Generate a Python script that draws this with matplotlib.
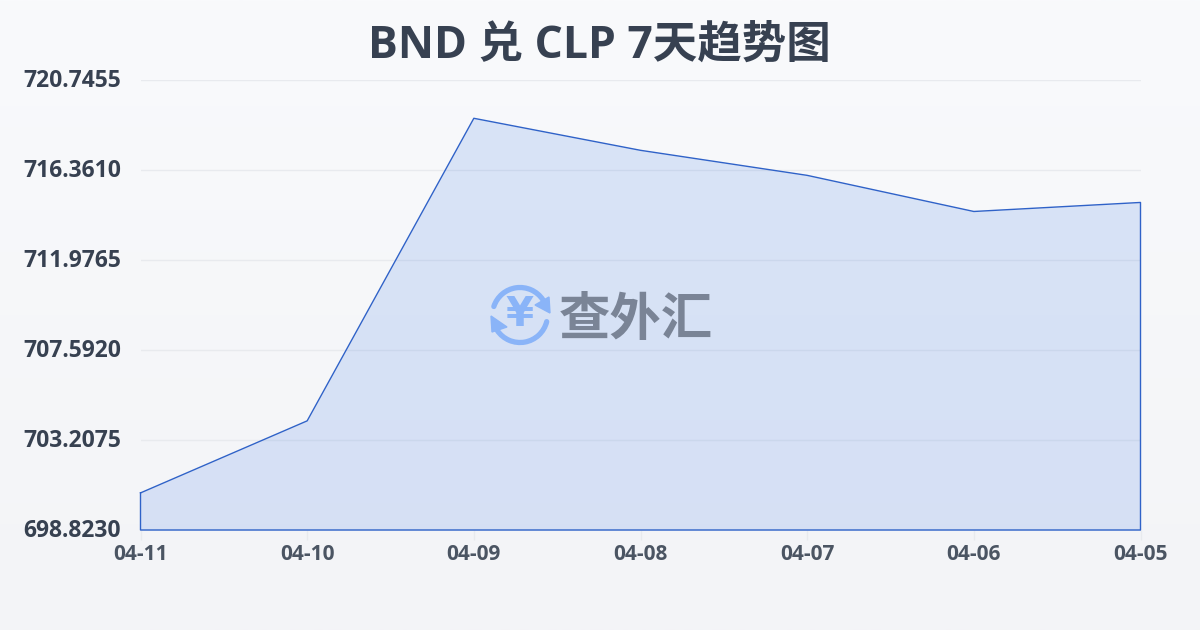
import numpy as np
import matplotlib
matplotlib.use('Agg')
import matplotlib.pyplot as plt
from matplotlib.patches import Arc, Polygon
from matplotlib.transforms import ScaledTranslation

plt.rcParams['font.family'] = ['Open Sans', 'Noto Sans CJK SC', 'DejaVu Sans']

dates = ['04-11', '04-10', '04-09', '04-08', '04-07', '04-06', '04-05']
rates = [700.63, 704.14, 718.88, 717.32, 716.10, 714.34, 714.78]
y_ticks = [698.8230, 703.2075, 707.5920, 711.9765, 716.3610, 720.7455]
y_labels = ['698.8230', '703.2075', '707.5920', '711.9765', '716.3610', '720.7455']

W, H = 1200, 630
fig = plt.figure(figsize=(12, 6.3), dpi=100)

# фон с лёгким градиентом
bg = fig.add_axes([0, 0, 1, 1], zorder=0)
bg.axis('off')
top = np.array([249, 250, 252]) / 255
bottom = np.array([243, 244, 247]) / 255
grad = np.linspace(0, 1, 256)[:, None, None] * (bottom - top) + top
bg.imshow(grad, aspect='auto', extent=(0, 1, 0, 1))

ax = fig.add_axes([140.5 / W, 1 - 530 / H, 1000 / W, 450 / H], zorder=1)
ax.patch.set_alpha(0)
x = np.arange(len(dates))
ax.set_xlim(0, len(dates) - 1)
ax.set_ylim(y_ticks[0], y_ticks[-1])

for s in ax.spines.values():
    s.set_visible(False)

ax.grid(axis='y', color='#e8eaee', linewidth=1)
ax.set_axisbelow(True)

ax.fill_between(x, rates, y_ticks[0], color='#2b6be4', alpha=0.15, linewidth=0, zorder=2)
xs = np.concatenate([x, [x[-1], x[0], x[0]]])
ys = np.concatenate([rates, [y_ticks[0], y_ticks[0], rates[0]]])
ax.plot(xs, ys, color='#2f62c8', linewidth=1, clip_on=False, zorder=3)

ax.set_xticks(x, dates)
ax.set_yticks(y_ticks, y_labels)
ax.tick_params(axis='x', length=7, width=1, color='#e8eaee', pad=3,
               labelsize=15, labelcolor='#4b5563')
ax.tick_params(axis='y', length=0, pad=14, labelsize=16.5, labelcolor='#374151')
for t in ax.get_xticklabels() + ax.get_yticklabels():
    t.set_fontweight('bold')
# подписи оси y чуть выше линий сетки
up = ScaledTranslation(0, 1.5 / 72, fig.dpi_scale_trans)
for t in ax.get_yticklabels():
    t.set_transform(t.get_transform() + up)

fig.text(0.4992, 1 - 46.5 / H, 'BND 兑 CLP 7天趋势图', ha='center', va='center',
         fontsize=32, fontweight='bold', color='#374151')

# водяной знак, координаты в пикселях
wm = fig.add_axes([0, 0, 1, 1], zorder=4)
wm.axis('off')
wm.set_xlim(0, W)
wm.set_ylim(H, 0)
icon = '#8ab4f8'
cx, cy = 520, 315
wm.add_patch(Arc((cx, cy), 55, 55, theta1=198, theta2=326, color=icon, linewidth=3.8, capstyle='round'))
wm.add_patch(Arc((cx, cy), 55, 55, theta1=14, theta2=146, color=icon, linewidth=3.8, capstyle='round'))
wm.add_patch(Polygon([(549, 297), (550, 313), (535, 305)], color=icon))
wm.add_patch(Polygon([(491, 316), (507, 327), (492, 332)], color=icon))
wm.text(cx, cy, '¥', ha='center', va='center', fontsize=29, fontweight='bold',
        color=icon, family='DejaVu Sans')
wm.text(636, 319.5, '查外汇', ha='center', va='center', fontsize=37, fontweight='bold',
        color='#7a8496', family='Noto Sans CJK SC')

fig.savefig('out.png', dpi=100)
